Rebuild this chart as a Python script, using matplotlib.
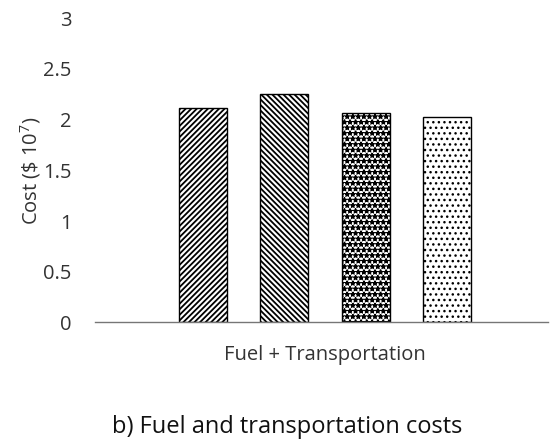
import matplotlib
matplotlib.use("Agg")
import matplotlib.pyplot as plt
import numpy as np

# ── data ──────────────────────────────────────────────────────────────────────
category = "Fuel + Transportation"
costs    = [2.12, 2.25, 2.07, 2.03]          # four scenarios, $ 10^7
hatches  = ["//////", "\\\\\\\\\\\\", "***", "..."]
hatch_lw = [1.3, 1.3, 1.0, 1.0]
yticks   = [0, 0.5, 1, 1.5, 2, 2.5, 3]
ytick_labels = ["0", "0.5", "1", "1.5", "2", "2.5", "3"]

plt.rcParams["font.family"] = ["Open Sans", "DejaVu Sans"]
plt.rcParams["mathtext.fontset"] = "custom"
plt.rcParams["mathtext.rm"] = "Open Sans"
plt.rcParams["mathtext.it"] = "Open Sans"

fig = plt.figure(figsize=(5.5, 4.45), dpi=100)
ax = fig.add_axes([0.1727, 0.2753, 0.8233, 0.6836])

spacing = 0.18
width   = 0.106
offsets = (np.arange(len(costs)) - (len(costs) - 1) / 2) * spacing

for x, v, h, lw in zip(offsets, costs, hatches, hatch_lw):
    with plt.rc_context({"hatch.linewidth": lw}):
        bar = ax.bar(x, v, width=width, color="white", edgecolor="black",
                     linewidth=1.0, hatch=h)
    for p in bar.patches:
        if hasattr(p, "set_hatch_linewidth"):
            p.set_hatch_linewidth(lw)

ax.set_xlim(-0.508, 0.492)
ax.set_ylim(0, 3)
ax.set_yticks(yticks)
ax.set_yticklabels(ytick_labels)
ax.set_xticks([0])
ax.set_xticklabels([category])

for side in ["top", "right", "left"]:
    ax.spines[side].set_visible(False)
ax.spines["bottom"].set_color("#767676")
ax.spines["bottom"].set_linewidth(1.0)

ax.tick_params(axis="y", length=0, pad=17, labelsize=14.5, colors="#333333")
ax.tick_params(axis="x", length=0, pad=16, labelsize=14.5, colors="#333333")

ax.set_ylabel("Cost (\\$ 10$^{7}$)", fontsize=14.5, color="#333333")
ax.yaxis.set_label_coords(-0.115, 0.5)

fig.text(0.522, 0.040, "b) Fuel and transportation costs", ha="center",
         va="center", fontsize=17, color="#111111")

fig.savefig("out.png", dpi=100)
